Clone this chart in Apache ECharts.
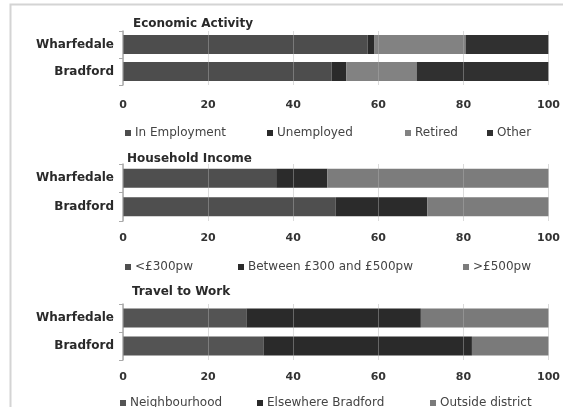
<!DOCTYPE html>
<html>
<head>
<meta charset="utf-8">
<script src="https://cdn.jsdelivr.net/npm/echarts@6/dist/echarts.min.js"></script>
<style>
  html, body { margin: 0; padding: 0; background: #fff; }
  #chart { width: 563px; height: 407px; }
</style>
</head>
<body>
<div id="chart"></div>
<script>
// Area profile: Wharfedale compared with the Bradford district (percent)
const categories = ['Wharfedale', 'Bradford'];
const xTicks = [0, 20, 40, 60, 80, 100];

// Economic Activity
const econNames = ['In Employment', 'Unemployed', 'Retired', 'Other'];
const inEmployment = [57.5, 49];
const unemployed = [1.5, 3.5];
const retired = [21.5, 16.5];
const otherActivity = [19.5, 31];

// Household Income
const incomeNames = ['<£300pw', 'Between £300 and £500pw', '>£500pw'];
const under300 = [36, 50];
const between300and500 = [12, 21.5];
const over500 = [52, 28.5];

// Travel to Work
const travelNames = ['Neighbourhood', 'Elsewhere Bradford', 'Outside district'];
const neighbourhood = [29, 33];
const elsewhereBradford = [41, 49];
const outsideDistrict = [30, 18];

const FONT = 'DejaVu Sans';
const panels = [
  { title: 'Economic Activity', top: 31, height: 54, titleTop: 18, labelMargin: 15, legendTop: 127,
    names: econNames, values: [inEmployment, unemployed, retired, otherActivity],
    colors: ['#4d4d4d', '#2a2a2a', '#828282', '#303030'], legendLeft: [125, 267, 405, 487] },
  { title: 'Household Income', top: 164, height: 57, titleTop: 153, labelMargin: 12, legendTop: 261,
    names: incomeNames, values: [under300, between300and500, over500],
    colors: ['#4f4f4f', '#2b2b2b', '#7c7c7c'], legendLeft: [125, 238, 463] },
  { title: 'Travel to Work', top: 304, height: 56, titleTop: 286, labelMargin: 12, legendTop: 397,
    names: travelNames, values: [neighbourhood, elsewhereBradford, outsideDistrict],
    colors: ['#545454', '#2a2a2a', '#7a7a7a'], legendLeft: [120, 257, 430] }
];

const grid = [], xAxis = [], yAxis = [], series = [], legend = [], title = [];

panels.forEach((p, i) => {
  grid.push({ left: 123, right: 12, top: p.top, height: p.height, containLabel: false });
  title.push({
    text: p.title, left: [133, 127, 132][i], top: p.titleTop, padding: 0,
    textStyle: { fontFamily: FONT, fontSize: 12, fontWeight: 'bold', color: '#2a2a2a' }
  });
  xAxis.push({
    type: 'value', gridIndex: i, min: xTicks[0], max: xTicks[xTicks.length - 1],
    interval: xTicks[1] - xTicks[0], z: 5,
    axisLine: { show: false }, axisTick: { show: false },
    splitLine: { show: true, lineStyle: { color: 'rgba(175,175,175,0.45)', width: 1 } },
    axisLabel: { margin: p.labelMargin, fontFamily: FONT, fontSize: 11, fontWeight: 'bold', color: '#333' }
  });
  yAxis.push({
    type: 'category', gridIndex: i, data: categories, inverse: true,
    axisLine: { show: true, lineStyle: { color: '#aaa', width: 1.5 } },
    axisTick: { show: true, length: 4, lineStyle: { color: '#aaa' } },
    axisLabel: { margin: 9, fontFamily: FONT, fontSize: 12, fontWeight: 'bold', color: '#2a2a2a' }
  });
  p.names.forEach((name, k) => {
    series.push({
      name: name, type: 'bar', stack: 'panel' + i, xAxisIndex: i, yAxisIndex: i,
      data: p.values[k], barWidth: 19, itemStyle: { color: p.colors[k] },
      emphasis: { disabled: true }
    });
    legend.push({
      data: [name], left: p.legendLeft[k], top: p.legendTop, padding: 0,
      icon: 'rect', itemWidth: 6, itemHeight: 6, selectedMode: false,
      textStyle: { fontFamily: FONT, fontSize: 12, color: '#444', padding: [0, 0, 0, -1] }
    });
  });
});

const chart = echarts.init(document.getElementById('chart'), null, { renderer: 'canvas' });
chart.setOption({
  animation: false,
  backgroundColor: '#fff',
  title: title,
  grid: grid,
  xAxis: xAxis,
  yAxis: yAxis,
  legend: legend,
  series: series,
  graphic: [{
    type: 'rect', left: 8, top: 2, silent: true, z: -1,
    shape: { width: 600, height: 450 },
    style: { fill: 'none', stroke: '#d4d4d4', lineWidth: 2 }
  }]
});
</script>
</body>
</html>
